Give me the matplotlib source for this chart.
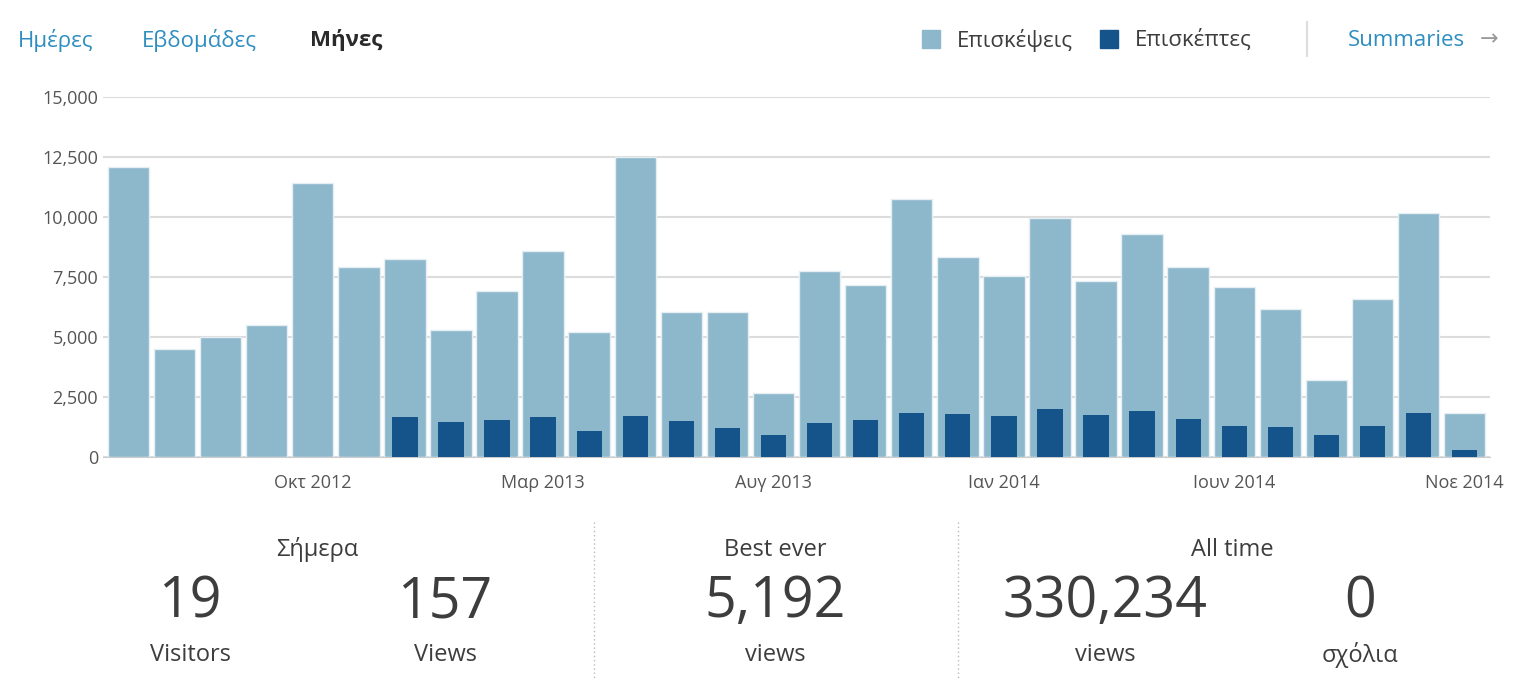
import matplotlib.pyplot as plt
import numpy as np

plt.rcParams['font.family'] = ['Open Sans', 'DejaVu Sans']

months = ['Ιουν 2012', 'Ιουλ 2012', 'Αυγ 2012', 'Σεπ 2012', 'Οκτ 2012', 'Νοε 2012',
          'Δεκ 2012', 'Ιαν 2013', 'Φεβ 2013', 'Μαρ 2013', 'Απρ 2013', 'Μαϊ 2013',
          'Ιουν 2013', 'Ιουλ 2013', 'Αυγ 2013', 'Σεπ 2013', 'Οκτ 2013', 'Νοε 2013',
          'Δεκ 2013', 'Ιαν 2014', 'Φεβ 2014', 'Μαρ 2014', 'Απρ 2014', 'Μαϊ 2014',
          'Ιουν 2014', 'Ιουλ 2014', 'Αυγ 2014', 'Σεπ 2014', 'Οκτ 2014', 'Νοε 2014']
views = [12100, 4500, 5000, 5500, 11400, 7900, 8250, 5300, 6900, 8600, 5200, 12500,
         6050, 6050, 2650, 7750, 7150, 10750, 8350, 7550, 9950, 7350, 9300, 7900,
         7100, 6150, 3200, 6600, 10150, 1850]
visitors = [0, 0, 0, 0, 0, 0, 1650, 1450, 1550, 1650, 1100, 1700, 1500, 1200, 900,
            1400, 1550, 1850, 1800, 1700, 2000, 1750, 1900, 1600, 1300, 1250, 900,
            1300, 1850, 300]
shown_ticks = ['Οκτ 2012', 'Μαρ 2013', 'Αυγ 2013', 'Ιαν 2014', 'Ιουν 2014', 'Νοε 2014']

light = '#8db8cc'
dark = '#14548a'
blue = '#2e8ec0'
text_c = '#3d3d3d'

fig = plt.figure(figsize=(15.29, 6.91), dpi=100)
ax = fig.add_axes([0.0674, 0.3386, 0.9071, 0.521])
x = np.arange(len(months))
ax.bar(x, views, width=0.9, color=light, edgecolor='#e4eef3', linewidth=1, zorder=2)
ax.bar(x, visitors, width=0.55, color=dark, zorder=3)
ax.set_xlim(-0.55, len(months) - 0.45)
ax.set_ylim(0, 15000)
ax.set_yticks(range(0, 15001, 2500))
ax.set_yticklabels([f'{v:,}' for v in range(0, 15001, 2500)])
ax.grid(axis='y', color='#dcdcdc', linewidth=1.5, zorder=0)
ticks = [months.index(m) for m in shown_ticks]
ax.set_xticks(ticks)
ax.set_xticklabels(shown_ticks)
ax.tick_params(axis='both', length=0, labelsize=13, colors='#555555')
ax.tick_params(axis='x', pad=12)
for s in ['top', 'right', 'left']:
    ax.spines[s].set_visible(False)
ax.spines['bottom'].set_color('#cccccc')

# top tabs
fig.text(18 / 1529, 1 - 40 / 691, 'Ημέρες', color=blue, fontsize=16, va='center')
fig.text(142 / 1529, 1 - 40 / 691, 'Εβδομάδες', color=blue, fontsize=16, va='center')
fig.text(310 / 1529, 1 - 40 / 691, 'Μήνες', color='#2a2a2a', fontsize=16,
         fontweight='bold', va='center')

# legend
fig.patches.append(plt.Rectangle((922 / 1529, 1 - 48 / 691), 18 / 1529, 18 / 691,
                                 transform=fig.transFigure, color=light))
fig.text(957 / 1529, 1 - 40 / 691, 'Επισκέψεις', color=text_c, fontsize=16, va='center')
fig.patches.append(plt.Rectangle((1100 / 1529, 1 - 48 / 691), 18 / 1529, 18 / 691,
                                 transform=fig.transFigure, color=dark))
fig.text(1135 / 1529, 1 - 40 / 691, 'Επισκέπτες', color=text_c, fontsize=16, va='center')
fig.add_artist(plt.Line2D([1307 / 1529] * 2, [1 - 22 / 691, 1 - 56 / 691],
                          color='#dddddd', linewidth=1.5))
fig.text(1348 / 1529, 1 - 40 / 691, 'Summaries', color=blue, fontsize=16, va='center')
fig.text(1480 / 1529, 1 - 40 / 691, '→', color='#999999', fontsize=16, va='center')

# bottom stats
for xs in [594, 958]:
    fig.add_artist(plt.Line2D([xs / 1529] * 2, [1 - 522 / 691, 1 - 680 / 691],
                              color='#bbbbbb', linewidth=1, linestyle=(0, (1, 2))))

def stat(xc, y, s, size):
    fig.text(xc / 1529, 1 - y / 691, s, color=text_c, fontsize=size,
             ha='center', va='center')

stat(317, 550, 'Σήμερα', 17)
stat(775, 550, 'Best ever', 17)
stat(1232, 550, 'All time', 17)
for xc, num, lab in [(190, '19', 'Visitors'), (445, '157', 'Views'),
                     (775, '5,192', 'views'), (1105, '330,234', 'views'),
                     (1360, '0', 'σχόλια')]:
    stat(xc, 603, num, 40)
    stat(xc, 655, lab, 17)

fig.savefig('out.png', dpi=100)
